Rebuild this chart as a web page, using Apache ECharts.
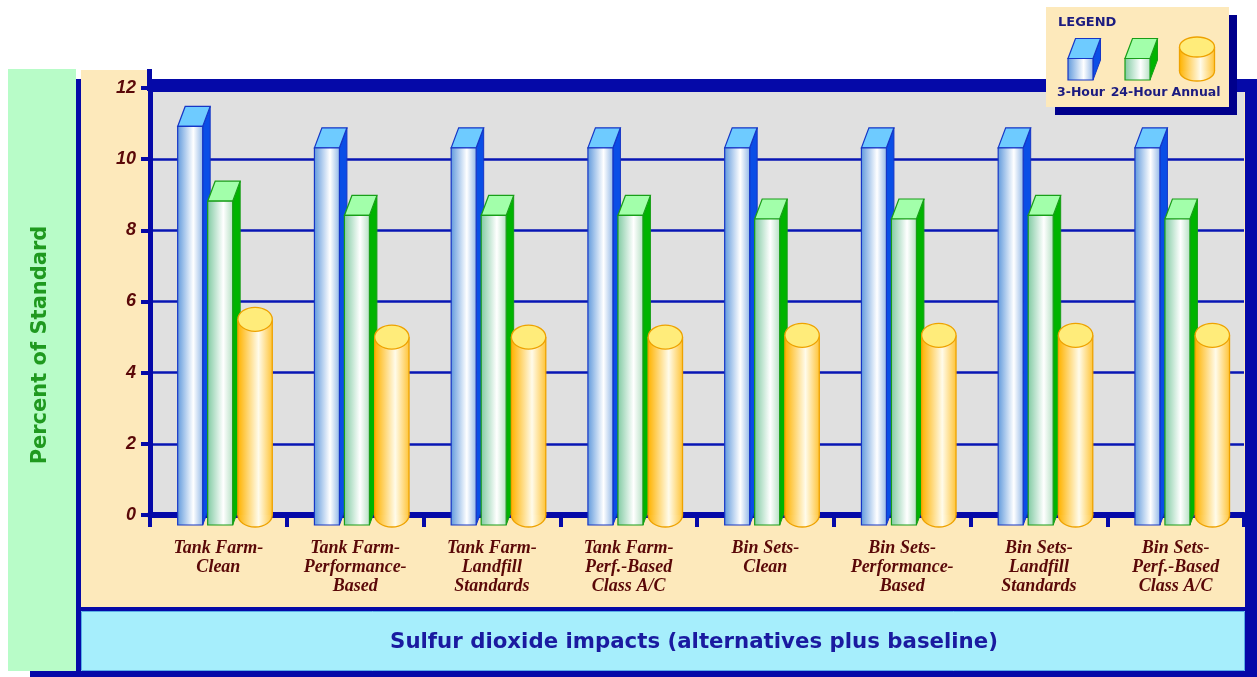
<!DOCTYPE html>
<html>
<head>
<meta charset="utf-8">
<script src="https://cdn.jsdelivr.net/npm/echarts@6/dist/echarts.min.js"></script>
<style>
html,body{margin:0;padding:0;background:#ffffff;}
#chart{width:1257px;height:677px;}
</style>
</head>
<body>
<div id="chart"></div>
<script>
// ---- data ----
const categories = [
  'Tank Farm-\nClean',
  'Tank Farm-\nPerformance-\nBased',
  'Tank Farm-\nLandfill\nStandards',
  'Tank Farm-\nPerf.-Based\nClass A/C',
  'Bin Sets-\nClean',
  'Bin Sets-\nPerformance-\nBased',
  'Bin Sets-\nLandfill\nStandards',
  'Bin Sets-\nPerf.-Based\nClass A/C'
];
const seriesNames = ['3-Hour', '24-Hour', 'Annual'];
const threeHour = [11.2, 10.6, 10.6, 10.6, 10.6, 10.6, 10.6, 10.6];
const twentyFourHour = [9.1, 8.7, 8.7, 8.7, 8.6, 8.6, 8.7, 8.6];
const annual = [5.5, 5.0, 5.0, 5.0, 5.05, 5.05, 5.05, 5.05];
const yMin = 0, yMax = 12, yStep = 2;
const yAxisTitle = 'Percent of Standard';
const xAxisTitle = 'Sulfur dioxide impacts (alternatives plus baseline)';
const legendTitle = 'LEGEND';

// ---- styles ----
const FRAME = '#0509a8';
const GRID_LINE = '#0816b4';
const LABEL_COLOR = '#5a0808';
const HALF = 10, DX = 7.5, DY = 20, BOX_W = 25, CYL_RX = 17.2;

const boxStyles = {
  blue: {
    front: {type:'linear',x:0,y:0,x2:1,y2:0,colorStops:[
      {offset:0,color:'#5e98dc'},{offset:0.62,color:'#ffffff'},{offset:1,color:'#8fb6e6'}]},
    top:'#6ecbff', side:'#0a4ee6', stroke:'#1636c6'
  },
  green: {
    front: {type:'linear',x:0,y:0,x2:1,y2:0,colorStops:[
      {offset:0,color:'#7ec9a0'},{offset:0.62,color:'#ffffff'},{offset:1,color:'#b4dfc2'}]},
    top:'#a2ffaa', side:'#00b400', stroke:'#189e18'
  }
};
const cylFill = {type:'linear',x:0,y:0,x2:1,y2:0,colorStops:[
  {offset:0,color:'#ffb300'},{offset:0.6,color:'#fffbea'},{offset:1,color:'#ffc53a'}]};
const cylTop = '#ffec7a', cylStroke = '#eea200';

function boxShapes(xL, ft, fb, st, z) {
  return [
    {type:'polygon', z:z, z2:1, shape:{points:[[xL+BOX_W,ft],[xL+BOX_W+DX,ft-DY],[xL+BOX_W+DX,fb-DY],[xL+BOX_W,fb]]},
      style:{fill:st.side, stroke:st.stroke, lineWidth:1}},
    {type:'polygon', z:z, z2:2, shape:{points:[[xL,ft],[xL+BOX_W,ft],[xL+BOX_W+DX,ft-DY],[xL+DX,ft-DY]]},
      style:{fill:st.top, stroke:st.stroke, lineWidth:1.2}},
    {type:'rect', z:z, z2:3, shape:{x:xL,y:ft,width:BOX_W,height:fb-ft},
      style:{fill:st.front, stroke:st.stroke, lineWidth:1.2}}
  ];
}
function cylShapes(cx, topY, botY, rx, ry, z) {
  return [
    {type:'ellipse', z:z, z2:1, shape:{cx:cx, cy:botY, rx:rx, ry:ry}, style:{fill:cylFill, stroke:cylStroke, lineWidth:1.3}},
    {type:'rect', z:z, z2:2, shape:{x:cx-rx, y:topY, width:rx*2, height:botY-topY}, style:{fill:cylFill}},
    {type:'line', z:z, z2:3, shape:{x1:cx-rx,y1:topY,x2:cx-rx,y2:botY}, style:{stroke:cylStroke, lineWidth:1.3}},
    {type:'line', z:z, z2:3, shape:{x1:cx+rx,y1:topY,x2:cx+rx,y2:botY}, style:{stroke:cylStroke, lineWidth:1.3}},
    {type:'ellipse', z:z, z2:4, shape:{cx:cx, cy:topY, rx:rx, ry:ry}, style:{fill:cylTop, stroke:cylStroke, lineWidth:1.3}}
  ];
}

function stripZ(list) {
  return list.map(function (e) { const c = Object.assign({}, e); delete c.z; return c; });
}
function boxRenderer(offset, st) {
  return function (params, api) {
    const cat = api.value(0), v = api.value(1);
    const top = api.coord([cat, v]);
    const base = api.coord([cat, 0]);
    const xL = top[0] + offset;
    return {type:'group', children: stripZ(boxShapes(xL, top[1] + HALF, base[1] + HALF, st, 0))};
  };
}
function cylRenderer(offset) {
  return function (params, api) {
    const cat = api.value(0), v = api.value(1);
    const top = api.coord([cat, v]);
    const base = api.coord([cat, 0]);
    return {type:'group', children: stripZ(cylShapes(top[0] + offset + CYL_RX, top[1], base[1], CYL_RX, 12, 0))};
  };
}

// ---- background panels, titles & legend ----
const graphics = [
  {type:'rect', z:-20, shape:{x:8,y:69,width:68,height:602}, style:{fill:'#b8fcc8'}},
  {type:'rect', z:-20, shape:{x:81,y:70,width:1164,height:537}, style:{fill:'#fde9bb'}},
  {type:'rect', z:-19, shape:{x:152,y:55,width:1105,height:24}, style:{fill:'#ffffff'}},
  {type:'rect', z:-5, shape:{x:76,y:79,width:5,height:598}, style:{fill:FRAME}},
  {type:'rect', z:-5, shape:{x:81,y:607,width:1164,height:4}, style:{fill:FRAME}},
  {type:'rect', z:-5, shape:{x:81.5,y:611.5,width:1163,height:59}, style:{fill:'#a6eefc', stroke:'#5aaee6', lineWidth:1}},
  {type:'rect', z:-5, shape:{x:30,y:671,width:1227,height:6}, style:{fill:FRAME}},
  {type:'rect', z:5, shape:{x:1245,y:79,width:12,height:598}, style:{fill:FRAME}},
  {type:'rect', z:5, shape:{x:152,y:79,width:1105,height:13}, style:{fill:FRAME}},
  {type:'rect', z:5, shape:{x:147,y:69,width:5,height:22}, style:{fill:FRAME}},
  // axis titles
  {type:'text', z:6, x:41, y:345, rotation:Math.PI/2,
    style:{text:yAxisTitle, x:0, y:0, align:'center', verticalAlign:'middle', fill:'#1f991f',
      font:'bold 21px "DejaVu Sans"'}},
  {type:'text', z:6, style:{text:xAxisTitle, x:694, y:642, align:'center', verticalAlign:'middle', fill:'#1a1aa0',
      font:'bold 21.3px "DejaVu Sans"'}},
  // legend
  {type:'rect', z:20, shape:{x:1055,y:15,width:182,height:100}, style:{fill:'#00008c'}},
  {type:'rect', z:21, shape:{x:1046,y:7,width:183,height:100}, style:{fill:'#fde9bb'}},
  {type:'text', z:22, style:{text:legendTitle, x:1058, y:23, verticalAlign:'middle', fill:'#1c1c80',
    font:'bold 13px "DejaVu Sans"'}}
];
boxShapes(1068, 58.5, 80, boxStyles.blue, 24).forEach(function (e) { graphics.push(e); });
boxShapes(1125, 58.5, 80, boxStyles.green, 24).forEach(function (e) { graphics.push(e); });
cylShapes(1197, 47, 71, 17.5, 10, 24).forEach(function (e) { graphics.push(e); });
const legendLabelX = [1081, 1139, 1196];
seriesNames.forEach(function (n, i) {
  graphics.push({type:'text', z:24, style:{text:n, x:legendLabelX[i], y:92.5, align:'center', verticalAlign:'middle',
    fill:'#1c1c80', font:'bold 12.5px "DejaVu Sans"'}});
});

const chart = echarts.init(document.getElementById('chart'), null, {renderer:'canvas'});
chart.setOption({
  backgroundColor:'#ffffff',
  animation:false,
  grid:{left:150, right:13, top:88, bottom:162, show:true, backgroundColor:'#e0e0e0', borderWidth:0},
  xAxis:{
    type:'category', data:categories, boundaryGap:true,
    axisLine:{lineStyle:{color:FRAME, width:6}},
    axisTick:{show:true, interval:0, length:12, lineStyle:{color:FRAME, width:4}},
    axisLabel:{interval:0, margin:24, color:LABEL_COLOR, fontFamily:'Liberation Serif', fontStyle:'italic',
      fontWeight:'bold', fontSize:18, lineHeight:19},
    splitLine:{show:false}
  },
  yAxis:{
    type:'value', min:yMin, max:yMax, interval:yStep,
    axisLine:{show:true, lineStyle:{color:FRAME, width:5}},
    axisTick:{show:true, length:9, lineStyle:{color:FRAME, width:4}},
    axisLabel:{margin:14, color:LABEL_COLOR, fontFamily:'Liberation Sans', fontStyle:'italic',
      fontWeight:'bold', fontSize:18},
    splitLine:{show:true, lineStyle:{color:GRID_LINE, width:2.5}}
  },
  graphic:{elements:graphics},
  series:[
    {name:seriesNames[0], type:'custom', z:3, renderItem:boxRenderer(-40.7, boxStyles.blue),
      data:threeHour.map(function (v, i) { return [i, v]; }), encode:{x:0, y:1}},
    {name:seriesNames[1], type:'custom', z:4, renderItem:boxRenderer(-10.7, boxStyles.green),
      data:twentyFourHour.map(function (v, i) { return [i, v]; }), encode:{x:0, y:1}},
    {name:seriesNames[2], type:'custom', z:5, renderItem:cylRenderer(19.5),
      data:annual.map(function (v, i) { return [i, v]; }), encode:{x:0, y:1}}
  ]
});
</script>
</body>
</html>
